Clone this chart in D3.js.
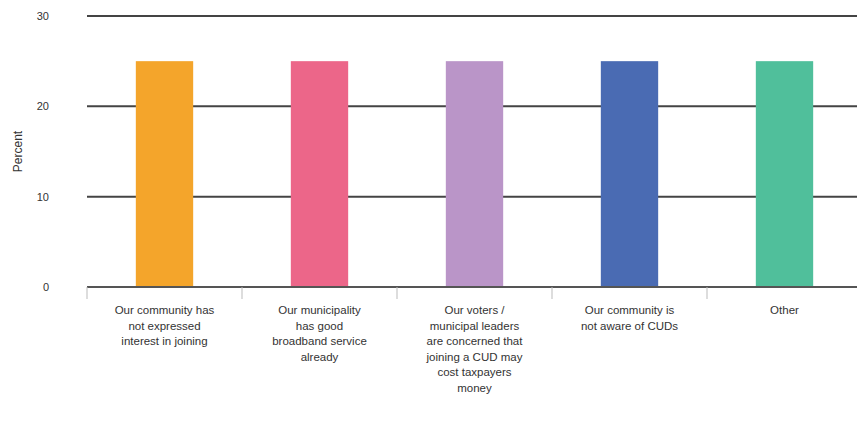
<!DOCTYPE html>
<html><head><meta charset="utf-8">
<script src="https://cdn.jsdelivr.net/npm/d3@7"></script>
<style>body{margin:0;background:#fff;} svg{display:block;}</style>
</head><body><div id="chart"></div>
<script>
const categories = [
  "Our community has\nnot expressed\ninterest in joining",
  "Our municipality\nhas good\nbroadband service\nalready",
  "Our voters /\nmunicipal leaders\nare concerned that\njoining a CUD may\ncost taxpayers\nmoney",
  "Our community is\nnot aware of CUDs",
  "Other"
];
const values = [25, 25, 25, 25, 25];
const colors = ["#F4A52B", "#EC6689", "#BA95C8", "#4A6BB3", "#50BF9B"];
const yTicks = [0, 10, 20, 30];
const yLabel = "Percent";

const W = 857, H = 426;
const svg = d3.select("#chart").append("svg").attr("width", W).attr("height", H);
const x = d3.scaleBand().domain(categories).range([87, 862]).paddingInner(0.63).paddingOuter(0.315);
const y = d3.scaleLinear().domain([0, 30]).range([287, 16]);

// gridlines
svg.append("g").selectAll("line").data(yTicks).join("line")
  .attr("x1", 87).attr("x2", W).attr("y1", d => y(d)).attr("y2", d => y(d))
  .attr("stroke", "#444").attr("stroke-width", 2);

// bars
svg.append("g").selectAll("rect").data(categories).join("rect")
  .attr("x", d => x(d)).attr("width", x.bandwidth())
  .attr("y", (d, i) => y(values[i])).attr("height", (d, i) => y(0) - y(values[i]))
  .attr("fill", (d, i) => colors[i]);

// baseline
svg.append("line").attr("x1", 87).attr("x2", W).attr("y1", y(0)).attr("y2", y(0))
  .attr("stroke", "#555").attr("stroke-width", 2);

// category separator ticks
const step = x.step();
const bounds = categories.map((d, i) => x(d) - x.paddingInner() * step / 2);
svg.append("g").selectAll("line").data(bounds).join("line")
  .attr("x1", d => d).attr("x2", d => d).attr("y1", y(0)).attr("y2", y(0) + 12)
  .attr("stroke", "#bbb").attr("stroke-width", 1);

// y tick labels
svg.append("g").selectAll("text").data(yTicks).join("text")
  .attr("x", 49).attr("y", d => y(d)).attr("dy", "0.35em")
  .attr("text-anchor", "end").attr("font-family", "Liberation Sans, Arial, sans-serif")
  .attr("font-size", 11).attr("fill", "#333").text(d => d);

// y label
svg.append("text").attr("transform", `translate(22,${(y(0) + y(30)) / 2}) rotate(-90)`)
  .attr("text-anchor", "middle").attr("font-family", "Liberation Sans, Arial, sans-serif")
  .attr("font-size", 12).attr("fill", "#333").text(yLabel);

// category labels
const lab = svg.append("g").selectAll("text").data(categories).join("text")
  .attr("text-anchor", "middle").attr("font-family", "Liberation Sans, Arial, sans-serif")
  .attr("font-size", 11.5).attr("fill", "#333");
lab.each(function(d) {
  const cx = x(d) + x.bandwidth() / 2;
  d3.select(this).selectAll("tspan").data(d.split("\n")).join("tspan")
    .attr("x", cx).attr("y", (t, j) => 314 + j * 15.6).text(t => t);
});
</script></body></html>
